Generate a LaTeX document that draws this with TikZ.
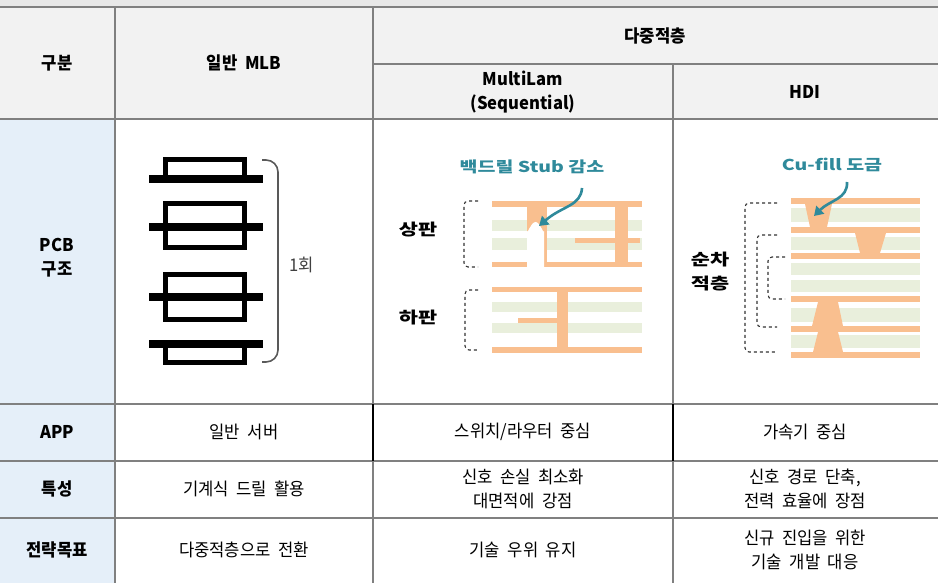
\documentclass[tikz,border=0pt]{standalone}
\usepackage{fontspec}
\setmainfont[WordSpace=2.0,FakeStretch=0.95]{Noto Sans CJK KR}
\newfontfamily\figfont[FakeStretch=1.3]{Noto Sans CJK KR}
\usetikzlibrary{arrows.meta}
\definecolor{gridgray}{HTML}{808080}
\definecolor{topgray}{HTML}{E8E8E8}
\definecolor{headgray}{HTML}{F2F2F2}
\definecolor{sideblue}{HTML}{E5EFF9}
\definecolor{copper}{HTML}{F9BF8F}
\definecolor{prepreg}{HTML}{E9EFDC}
\definecolor{callteal}{HTML}{2F8A9B}

\begin{document}
\begin{tikzpicture}[x=1pt,y=-1pt,
		cell/.style={font=\fontsize{17.5}{23.5}\selectfont, align=center, inner sep=0pt},
		head/.style={font=\fontsize{17.5}{24}\selectfont\bfseries, align=center, inner sep=0pt},
		figlabel/.style={font=\fontsize{16}{24}\selectfont\figfont\bfseries, align=center, inner sep=0pt},
		calllabel/.style={font=\fontsize{15}{18}\selectfont\figfont\bfseries, text=callteal, inner sep=0pt},
		callout/.style={draw=callteal, line width=2.6pt, -{Triangle[width=11pt,length=9pt]}},
		brkt/.style={draw=black!80, dashed, line width=1.1pt, rounded corners=4pt},
		gridline/.style={draw=gridgray, line width=2pt}]
		\useasboundingbox (0,0) rectangle (938,583);
		\fill[topgray] (0,0) rectangle (938,7);
		\fill[headgray] (0,7) rectangle (938,119.5);
		\fill[sideblue] (0,119.5) rectangle (115,583);
		\draw[gridline] (0,7) -- (938,7);
		\draw[gridline] (373,64.5) -- (938,64.5);
		\draw[gridline] (0,119.5) -- (938,119.5);
		\draw[gridline] (0,404) -- (938,404);
		\draw[gridline] (0,461) -- (938,461);
		\draw[gridline] (0,518) -- (938,518);
		\draw[gridline] (115,7) -- (115,583);
		\draw[gridline] (373,7) -- (373,583);
		\draw[gridline] (673,64.5) -- (673,583);
		\draw[line width=2pt] (373,404) -- (373,461);
		\draw[line width=2pt] (673,404) -- (673,461);
		\node[head] (kind) at (57,63) {구분};
		\node[head] (mlb) at (244,63) {일반 MLB};
		\node[head] (multi) at (655,36) {다중적층};
		\node[head] (seq) at (523,92) {MultiLam\\(Sequential)};
		\node[head] (hdi) at (805,92) {HDI};
		\node[head] (pcb) at (57,258) {PCB\\구조};
		\node[head] (app) at (57,432) {APP};
		\node[head] (feat) at (57,489) {특성};
		\node[head] (goal) at (57,550) {전략목표};
		\node[cell] (appMLB) at (244,432) {일반 서버};
		\node[cell] (appSeq) at (523,432) {스위치/라우터 중심};
		\node[cell] (appHDI) at (805,432) {가속기 중심};
		\node[cell] (featMLB) at (244,489) {기계식 드릴 활용};
		\node[cell] (featSeq) at (523,489) {신호 손실 최소화\\대면적에 강점};
		\node[cell] (featHDI) at (805,489) {신호 경로 단축,\\전력 효율에 장점};
		\node[cell] (goalMLB) at (244,550) {다중적층으로 전환};
		\node[cell] (goalSeq) at (523,550) {기술 우위 유지};
		\node[cell] (goalHDI) at (805,550) {신규 진입을 위한\\기술 개발 대응};
		\draw[line width=4.5pt] (165.5,159.5) rectangle (244.5,177);
		\fill (149,175) rectangle (263,183);
		\draw[line width=4.5pt] (165.5,203.5) rectangle (244.5,247.5);
		\fill (149,223) rectangle (263,231);
		\draw[line width=4.5pt] (165.5,274.5) rectangle (244.5,319.5);
		\fill (149,293) rectangle (263,301);
		\draw[line width=4.5pt] (165.5,346) rectangle (244.5,362.5);
		\fill (149,340) rectangle (263,348);
		\draw[black!65, line width=1.6pt, rounded corners=12pt] (262,160) -- (278,160) -- (278,362) -- (262,362);
		\node[cell, text=black!75] (once) at (302,265) {1회};
		\fill[prepreg] (492,220) rectangle (642,231);
		\fill[prepreg] (492,238) rectangle (642,250);
		\fill[copper] (492,201) rectangle (642,207);
		\fill[copper] (492,262) rectangle (527,267);
		\fill[copper] (547,262) rectangle (642,267);
		\fill[copper] (527,201) rectangle (547,267);
		\fill[white] (527,267) -- (527,231) to[out=-90,in=180] (535.5,222) to[out=0,in=-90] (544,231) -- (544,267) -- cycle;
		\fill[copper] (615,201) rectangle (628,267);
		\fill[copper] (575,238) rectangle (640,243);
		\fill[prepreg] (492,302) rectangle (642,312);
		\fill[prepreg] (492,323) rectangle (642,333);
		\fill[copper] (492,287) rectangle (642,292);
		\fill[copper] (492,347) rectangle (642,353);
		\fill[copper] (557,287) rectangle (568,353);
		\fill[copper] (518,318) rectangle (562,323);
		\draw[brkt] (478,201) -- (464,201) -- (464,267) -- (478,267);
		\draw[brkt] (478,290) -- (465,290) -- (465,350) -- (478,350);
		\node[figlabel] (upper) at (418,230) {상판};
		\node[figlabel] (lower) at (418,318) {하판};
		\node[calllabel] (stub) at (532,167) {백드릴 Stub 감소};
		\coordinate (stubTail) at (582,188);
		\coordinate (stubTip) at (539,226);
		\draw[callout] (stubTail) .. controls (581,206) and (562,206) .. (stubTip);
		\fill[prepreg] (791,208) rectangle (920,222);
		\fill[prepreg] (791,237) rectangle (920,250);
		\fill[prepreg] (791,263) rectangle (920,275);
		\fill[prepreg] (791,280) rectangle (920,292);
		\fill[prepreg] (791,308) rectangle (920,322);
		\fill[prepreg] (791,335) rectangle (920,348);
		\fill[copper] (791,198) rectangle (920,204);
		\fill[copper] (791,227) rectangle (920,233);
		\fill[copper] (791,253) rectangle (920,259);
		\fill[copper] (791,296) rectangle (920,302);
		\fill[copper] (791,326) rectangle (920,332);
		\fill[copper] (791,352) rectangle (920,358);
		\fill[copper] (805,204) -- (832,204) -- (827,227) -- (810,227) -- cycle;
		\fill[copper] (855,233) -- (886,233) -- (880,253) -- (860,253) -- cycle;
		\fill[copper] (818,302) -- (838,302) -- (843,326) -- (812,326) -- cycle;
		\fill[copper] (818,332) -- (838,332) -- (843,352) -- (813,352) -- cycle;
		\draw[brkt] (777,203) -- (745,203) -- (745,352) -- (777,352);
		\draw[brkt] (777,235) -- (757,235) -- (757,327) -- (777,327);
		\draw[brkt] (785,257) -- (768,257) -- (768,299) -- (785,299);
		\node[figlabel] (seqstack) at (710,272) {순차\\적층};
		\node[calllabel] (cufill) at (832,165) {Cu-fill 도금};
		\coordinate (cuTail) at (847,182);
		\coordinate (cuTip) at (814,216);
		\draw[callout] (cuTail) .. controls (848,199) and (830,200) .. (cuTip);
\end{tikzpicture}
\end{document}
